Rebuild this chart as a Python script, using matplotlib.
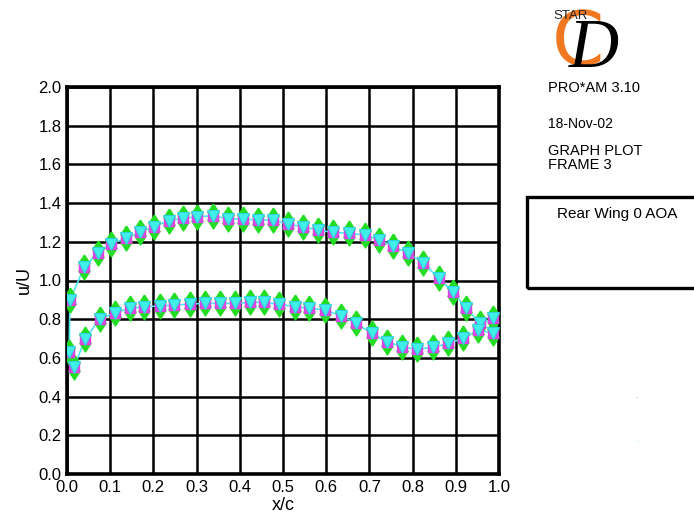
import matplotlib
matplotlib.use("Agg")
import matplotlib.pyplot as plt
from matplotlib.patches import Rectangle

plt.rcParams['font.family'] = ['Liberation Sans', 'DejaVu Sans']

# Upper surface
x_upper = [0.007, 0.040, 0.071, 0.103, 0.136, 0.169, 0.201, 0.235, 0.269, 0.302,
           0.339, 0.373, 0.408, 0.443, 0.478, 0.512, 0.547, 0.580, 0.616, 0.652,
           0.690, 0.723, 0.755, 0.790, 0.825, 0.860, 0.893, 0.924, 0.956, 0.987]
u_upper = [0.900, 1.070, 1.144, 1.190, 1.218, 1.249, 1.278, 1.309, 1.321, 1.330,
           1.335, 1.318, 1.318, 1.313, 1.313, 1.290, 1.278, 1.261, 1.249, 1.244,
           1.235, 1.209, 1.178, 1.140, 1.092, 1.011, 0.942, 0.856, 0.779, 0.805]
# Lower surface
x_lower = [0.005, 0.017, 0.042, 0.076, 0.111, 0.146, 0.179, 0.215, 0.248, 0.285,
           0.319, 0.354, 0.389, 0.424, 0.456, 0.491, 0.528, 0.561, 0.597, 0.634,
           0.669, 0.705, 0.740, 0.775, 0.810, 0.847, 0.883, 0.917, 0.952, 0.987]
u_lower = [0.632, 0.554, 0.700, 0.800, 0.834, 0.856, 0.865, 0.868, 0.873, 0.878,
           0.882, 0.882, 0.882, 0.887, 0.887, 0.877, 0.865, 0.856, 0.848, 0.818,
           0.779, 0.727, 0.684, 0.658, 0.644, 0.655, 0.675, 0.701, 0.744, 0.727]

x_ticks = [0.0, 0.1, 0.2, 0.3, 0.4, 0.5, 0.6, 0.7, 0.8, 0.9, 1.0]
y_ticks = [0.0, 0.2, 0.4, 0.6, 0.8, 1.0, 1.2, 1.4, 1.6, 1.8, 2.0]

fig = plt.figure(figsize=(6.94, 5.26), dpi=100)
ax = fig.add_axes([67/694, 1-474/526, 432/694, 387/526])

x_all = x_upper[::-1] + x_lower
u_all = u_upper[::-1] + u_lower

arrow = [(0, 1), (0.45, 0.3), (0.15, 0.3), (0.15, -0.3), (0.45, -0.3), (0, -1),
         (-0.45, -0.3), (-0.15, -0.3), (-0.15, 0.3), (-0.45, 0.3), (0, 1)]

ax.plot(x_all, u_all, color='#50e8f0', lw=1.2, zorder=3)
ax.plot(x_all, u_all, ls='none', marker=arrow, ms=18, mfc='#22dd22', mec='#22dd22', zorder=4)
ax.plot(x_all, u_all, ls='none', marker='s', ms=7, mfc='#d050e0', mec='#e040e0', mew=1.0, zorder=5)
ax.plot(x_all, u_all, ls='none', marker='v', ms=8, mfc='#40f0e8', mec='#30d0e0', mew=0.8, zorder=6)

ax.set_xlim(0, 1)
ax.set_ylim(0, 2)
ax.set_xticks(x_ticks)
ax.set_yticks(y_ticks)
ax.set_xticklabels([f"{v:.1f}" for v in x_ticks])
ax.set_yticklabels([f"{v:.1f}" for v in y_ticks])
ax.grid(True, color='black', lw=1.8)
ax.set_axisbelow(True)
for s in ax.spines.values():
    s.set_linewidth(2.6)
ax.tick_params(length=0, labelsize=12, pad=4)
ax.set_xlabel('x/c', fontsize=13, labelpad=2)
ax.set_ylabel('u/U', fontsize=13, labelpad=4)

# Right-hand info panel
fig.text(548/694, 1-88/526, 'PRO*AM 3.10', fontsize=10.5, va='center', ha='left')
fig.text(548/694, 1-124/526, '18-Nov-02', fontsize=10, va='center', ha='left')
fig.text(548/694, 1-151/526, 'GRAPH PLOT', fontsize=10.5, va='center', ha='left')
fig.text(548/694, 1-165/526, 'FRAME 3', fontsize=10.5, va='center', ha='left')

# Logo
fig.text(578/694, 1-44/526, 'C', fontsize=54, color='#f07820', ha='center', va='center',
         family='DejaVu Sans')
fig.text(594/694, 1-50/526, 'D', fontsize=50, color='black', ha='center', va='center',
         family='Liberation Serif', style='italic')
fig.text(553/694, 1-16/526, 'STAR', fontsize=9.5, color='#222222', ha='left', va='center',
         zorder=5)

# Box
fig.patches.append(Rectangle((527/694, 1-288/526), 180/694, 91/526, transform=fig.transFigure,
                             fill=False, ec='black', lw=2.4))
fig.text(617/694, 1-214/526, 'Rear Wing 0 AOA', fontsize=11, ha='center', va='center')

# faint legend dots
fig.text(636/694, 1-397/526, '.', fontsize=6, color='#22cc22', ha='center', va='center')
fig.text(637/694, 1-440/526, '.', fontsize=6, color='#40e0e0', ha='center', va='center')

fig.savefig('out.png', dpi=100)
